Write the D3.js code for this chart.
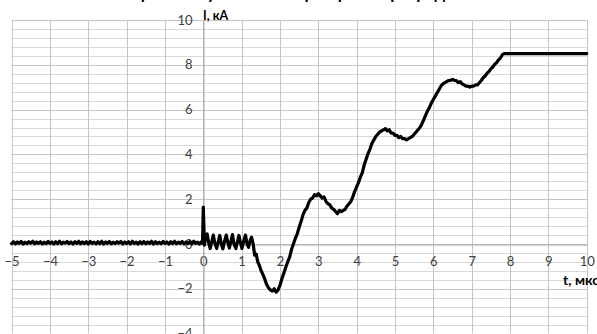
<!DOCTYPE html>
<html><head><meta charset="utf-8">
<script src="https://cdn.jsdelivr.net/npm/d3@7"></script>
<style>
html,body{margin:0;padding:0;background:#fff;overflow:hidden;}
svg{display:block;}
</style></head>
<body>
<svg id="chart" width="597" height="334"></svg>
<script>
const titleText = "Форма импульса тока при пробое разрядника";
const xLabel = "t, мкс";
const yLabel = "I, кА";
const xTicks = [-5,-4,-3,-2,-1,0,1,2,3,4,5,6,7,8,9,10];
const yTicks = [-4,-2,0,2,4,6,8,10];
const yMinorStep = 0.4;

const time = [
-5.00,-4.95,-4.90,-4.85,-4.80,-4.75,-4.70,-4.65,-4.60,-4.55,-4.50,-4.45,-4.40,-4.35,-4.30,-4.25,-4.20,-4.15,-4.10,-4.05,
-4.00,-3.95,-3.90,-3.85,-3.80,-3.75,-3.70,-3.65,-3.60,-3.55,-3.50,-3.45,-3.40,-3.35,-3.30,-3.25,-3.20,-3.15,-3.10,-3.05,
-3.00,-2.95,-2.90,-2.85,-2.80,-2.75,-2.70,-2.65,-2.60,-2.55,-2.50,-2.45,-2.40,-2.35,-2.30,-2.25,-2.20,-2.15,-2.10,-2.05,
-2.00,-1.95,-1.90,-1.85,-1.80,-1.75,-1.70,-1.65,-1.60,-1.55,-1.50,-1.45,-1.40,-1.35,-1.30,-1.25,-1.20,-1.15,-1.10,-1.05,
-1.00,-0.95,-0.90,-0.85,-0.80,-0.75,-0.70,-0.65,-0.60,-0.55,-0.50,-0.45,-0.40,-0.35,-0.30,-0.25,-0.20,-0.15,-0.10,-0.05,-0.02,
0.00,0.03,0.06,0.10,0.14,0.18,0.22,0.26,0.30,0.35,0.39,0.43,0.47,0.51,0.55,0.60,0.64,0.68,0.72,0.76,
0.80,0.85,0.89,0.93,0.97,1.01,1.05,1.10,1.14,1.18,1.22,1.26,1.30,1.34,1.38,1.42,1.46,1.50,1.55,1.60,
1.65,1.70,1.75,1.80,1.85,1.90,1.95,2.00,2.05,2.10,2.15,2.20,2.25,2.30,2.35,2.40,2.45,2.50,2.55,2.60,
2.65,2.70,2.75,2.80,2.85,2.90,2.95,3.00,3.05,3.10,3.15,3.20,3.25,3.30,3.35,3.40,3.45,3.50,3.55,3.60,
3.65,3.70,3.75,3.80,3.85,3.90,3.95,4.00,4.05,4.10,4.15,4.20,4.25,4.30,4.35,4.40,4.45,4.50,4.55,4.60,
4.65,4.70,4.75,4.80,4.85,4.90,4.95,5.00,5.05,5.10,5.15,5.20,5.25,5.30,5.35,5.40,5.45,5.50,5.55,5.60,
5.65,5.70,5.75,5.80,5.85,5.90,5.95,6.00,6.05,6.10,6.15,6.20,6.25,6.30,6.35,6.40,6.45,6.50,6.55,6.60,
6.65,6.70,6.75,6.80,6.85,6.90,6.95,7.00,7.05,7.10,7.15,7.20,7.25,7.30,7.35,7.40,7.45,7.50,7.55,7.60,
7.65,7.70,7.75,7.80,7.85,10.00
];
const current = [
0.02,0.10,0.01,0.09,0.03,0.11,0.00,0.08,0.02,0.10,0.04,0.12,0.01,0.09,0.03,0.10,0.00,0.08,0.02,0.11,
0.03,0.09,0.00,0.10,0.02,0.12,0.01,0.08,0.04,0.11,0.02,0.09,0.00,0.10,0.03,0.12,0.01,0.09,0.02,0.10,
0.00,0.11,0.03,0.08,0.01,0.10,0.02,0.12,0.00,0.09,0.03,0.11,0.01,0.08,0.02,0.10,0.04,0.11,0.00,0.09,
0.02,0.10,0.01,0.12,0.03,0.08,0.00,0.10,0.02,0.11,0.01,0.09,0.03,0.12,0.00,0.10,0.02,0.08,0.01,0.11,
0.03,0.09,0.00,0.10,0.02,0.12,0.01,0.08,0.03,0.11,0.00,0.09,0.02,0.10,0.01,0.12,0.03,0.08,0.00,0.10,0.03,
1.65,-0.05,0.35,0.45,0.05,-0.20,0.10,0.40,0.05,-0.20,0.10,0.38,0.00,-0.22,0.10,0.40,0.05,-0.18,0.12,0.42,
0.00,-0.20,0.10,0.38,0.05,-0.20,0.10,0.40,0.00,-0.15,0.15,0.30,0.00,-0.50,-0.45,-0.80,-0.95,-1.15,-1.35,-1.55,
-1.80,-1.95,-2.05,-2.10,-2.00,-2.15,-2.05,-1.85,-1.55,-1.30,-1.05,-0.80,-0.60,-0.25,0.00,0.25,0.45,0.75,1.00,1.30,
1.50,1.60,1.85,2.00,2.05,2.20,2.15,2.25,2.15,2.05,2.10,1.90,1.80,1.75,1.60,1.55,1.45,1.35,1.50,1.45,
1.50,1.55,1.70,1.80,1.90,2.10,2.35,2.55,2.75,3.00,3.20,3.55,3.80,4.05,4.25,4.50,4.65,4.80,4.90,5.00,
5.05,5.10,5.15,5.05,5.10,4.95,4.95,4.85,4.85,4.75,4.80,4.70,4.70,4.65,4.70,4.75,4.80,4.90,5.00,5.10,
5.20,5.35,5.55,5.75,5.95,6.10,6.30,6.45,6.60,6.75,6.90,7.05,7.15,7.20,7.25,7.30,7.30,7.35,7.30,7.30,
7.20,7.25,7.15,7.10,7.05,7.05,7.00,7.05,7.05,7.10,7.10,7.20,7.30,7.42,7.50,7.62,7.70,7.82,7.90,8.02,
8.10,8.22,8.30,8.45,8.50,8.50
];

const svg = d3.select("#chart");
const x = d3.scaleLinear().domain([-5, 10]).range([11.6, 586.7]);
const y = d3.scaleLinear().domain([-4, 10]).range([333.6, 20]);

const minorVals = d3.range(-4, 10.001, yMinorStep).map(v => Math.round(v*10)/10);
svg.append("g").selectAll("line").data(minorVals).join("line")
  .attr("x1", x(-5)).attr("x2", x(10))
  .attr("y1", d => Math.round(y(d)) + 0.5).attr("y2", d => Math.round(y(d)) + 0.5)
  .attr("stroke", "#d9d9d9").attr("stroke-width", 1);
svg.append("g").selectAll("line").data(yTicks).join("line")
  .attr("x1", x(-5)).attr("x2", x(10))
  .attr("y1", d => Math.round(y(d)) + 0.5).attr("y2", d => Math.round(y(d)) + 0.5)
  .attr("stroke", "#c4c4c4").attr("stroke-width", 1);
svg.append("g").selectAll("line").data(xTicks).join("line")
  .attr("x1", d => Math.round(x(d)) + 0.5).attr("x2", d => Math.round(x(d)) + 0.5)
  .attr("y1", y(10)).attr("y2", y(-4))
  .attr("stroke", "#c4c4c4").attr("stroke-width", 1);

const fontFam = "Lato, 'Open Sans', sans-serif";
const xAxis = svg.append("g").attr("transform", `translate(0,${Math.round(y(0))+0.5})`)
  .call(d3.axisBottom(x).tickValues(xTicks).tickSize(0).tickPadding(12));
xAxis.select(".domain").attr("stroke", "#a6a6a6");
xAxis.selectAll("text").attr("font-family", fontFam).attr("font-size", 13).attr("fill", "#404040");

const yAxis = svg.append("g").attr("transform", `translate(${Math.round(x(0))+0.5},0)`)
  .call(d3.axisLeft(y).tickValues(yTicks).tickSize(0).tickPadding(11));
yAxis.select(".domain").attr("stroke", "#a6a6a6");
yAxis.selectAll("text").attr("font-family", fontFam).attr("font-size", 13).attr("fill", "#404040");

const pts = time.map((t, i) => [t, current[i]]);
svg.append("path").datum(pts)
  .attr("fill", "none").attr("stroke", "#000").attr("stroke-width", 3.2)
  .attr("stroke-linejoin", "round").attr("stroke-linecap", "round")
  .attr("d", d3.line().x(d => x(d[0])).y(d => y(d[1])));

svg.append("text").attr("x", 203).attr("y", 20)
  .attr("font-family", fontFam).attr("font-weight", "bold").attr("font-size", 12.5).attr("fill", "#000")
  .text(yLabel);
svg.append("text").attr("x", 563).attr("y", 285)
  .attr("font-family", fontFam).attr("font-weight", "bold").attr("font-size", 14).attr("fill", "#000")
  .text(xLabel);

svg.append("text").attr("x", 300).attr("y", -1.5).attr("text-anchor", "middle")
  .attr("font-family", fontFam).attr("font-weight", "bold").attr("font-size", 17).attr("fill", "#000")
  .text(titleText);
</script>
</body></html>
